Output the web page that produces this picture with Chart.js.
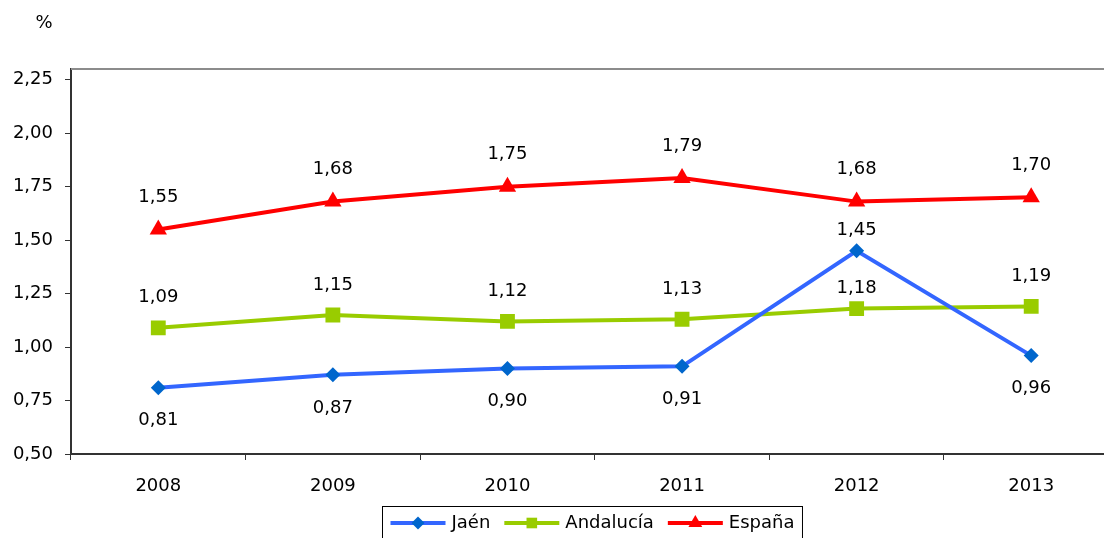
<!DOCTYPE html>
<html>
<head>
<meta charset="utf-8">
<script src="https://cdn.jsdelivr.net/npm/chart.js@4.4.1/dist/chart.umd.min.js"></script>
<style>
  html, body { margin: 0; padding: 0; background: #fff; overflow: hidden; }
  #wrap { width: 1129px; height: 538px; }
</style>
</head>
<body>
<div id="wrap"><canvas id="chart" width="1129" height="538"></canvas></div>
<script>
const years = ['2008', '2009', '2010', '2011', '2012', '2013'];
const jaen = [0.81, 0.87, 0.90, 0.91, 1.45, 0.96];
const andalucia = [1.09, 1.15, 1.12, 1.13, 1.18, 1.19];
const espana = [1.55, 1.68, 1.75, 1.79, 1.68, 1.70];
const yTicks = [0.50, 0.75, 1.00, 1.25, 1.50, 1.75, 2.00, 2.25];

const FONT = 'DejaVu Sans';
Chart.defaults.font.family = FONT;
Chart.defaults.font.size = 18;
Chart.defaults.color = '#000';

const fmt = v => v.toFixed(2).replace('.', ',');

// value labels next to each point
const valueLabels = {
  id: 'valueLabels',
  afterDatasetsDraw(chart) {
    const ctx = chart.ctx;
    ctx.save();
    ctx.font = '18px ' + FONT;
    ctx.fillStyle = '#000';
    ctx.textAlign = 'center';
    ctx.textBaseline = 'middle';
    chart.data.datasets.forEach((ds, di) => {
      const meta = chart.getDatasetMeta(di);
      meta.data.forEach((pt, i) => {
        ctx.fillText(fmt(ds.data[i]), pt.x, pt.y + ds.labelDy(i));
      });
    });
    ctx.restore();
  }
};

// grey top edge of the plot frame, the unit, and the boxed legend
const frame = {
  id: 'frame',
  afterDraw(chart) {
    const ctx = chart.ctx;
    const a = chart.chartArea;
    ctx.save();
    ctx.strokeStyle = '#8c8c8c';
    ctx.lineWidth = 2;
    ctx.beginPath();
    ctx.moveTo(a.left, a.top);
    ctx.lineTo(a.right, a.top);
    ctx.stroke();

    ctx.font = '18px ' + FONT;
    ctx.fillStyle = '#000';
    ctx.textAlign = 'center';
    ctx.textBaseline = 'middle';
    ctx.fillText('%', 44, 23);

    // legend
    const lineLen = 55, gap = 6, after = 14, pad = 8;
    const items = chart.data.datasets.map(ds => ({ds, w: ctx.measureText(ds.label).width}));
    let total = pad * 2 - after;
    items.forEach(it => { total += lineLen + gap + it.w + after; });
    const cx = 592;
    const left = Math.round(cx - total / 2) + 0.5;
    const top = 506.5;
    const midY = 523;
    ctx.strokeStyle = '#000';
    ctx.lineWidth = 1;
    ctx.strokeRect(left, top, total, 60);
    let x = left + pad;
    items.forEach(it => {
      const ds = it.ds;
      ctx.strokeStyle = ds.borderColor;
      ctx.lineWidth = 4;
      ctx.beginPath();
      ctx.moveTo(x, midY);
      ctx.lineTo(x + lineLen, midY);
      ctx.stroke();
      ctx.fillStyle = ds.pointBackgroundColor;
      Chart.helpers.drawPoint(ctx, {pointStyle: ds.pointStyle, radius: ds.legendRadius, rotation: 0, borderWidth: 0}, x + lineLen / 2, midY);
      ctx.fillStyle = '#000';
      ctx.textAlign = 'left';
      ctx.fillText(ds.label, x + lineLen + gap, midY);
      x += lineLen + gap + it.w + after;
    });
    ctx.restore();
  }
};

new Chart(document.getElementById('chart'), {
  type: 'line',
  data: {
    labels: years,
    datasets: [
      {
        label: 'Jaén',
        data: jaen,
        borderColor: '#3366ff',
        backgroundColor: '#0066cc',
        pointBackgroundColor: '#0066cc',
        pointBorderWidth: 0,
        pointStyle: 'rectRot',
        pointRadius: 7.5,
        legendRadius: 6.5,
        borderWidth: 4,
        labelDy: i => (i === 4 ? -20 : 33)
      },
      {
        label: 'Andalucía',
        data: andalucia,
        borderColor: '#99cc00',
        backgroundColor: '#99cc00',
        pointBackgroundColor: '#99cc00',
        pointBorderWidth: 0,
        pointStyle: 'rect',
        pointRadius: 10.5,
        legendRadius: 7.5,
        borderWidth: 4,
        labelDy: i => (i === 4 ? -20 : -30)
      },
      {
        label: 'España',
        data: espana,
        borderColor: '#ff0000',
        backgroundColor: '#ff0000',
        pointBackgroundColor: '#ff0000',
        pointBorderWidth: 0,
        pointStyle: 'triangle',
        pointRadius: 10,
        legendRadius: 8,
        borderWidth: 4,
        labelDy: () => -32
      }
    ]
  },
  options: {
    responsive: false,
    animation: false,
    devicePixelRatio: 1,
    layout: { padding: { top: 69, bottom: 24, left: 0, right: 2 } },
    elements: { line: { tension: 0 } },
    plugins: {
      legend: { display: false },
      tooltip: { enabled: false }
    },
    scales: {
      x: {
        offset: true,
        grid: {
          offset: true,
          drawOnChartArea: false,
          drawTicks: true,
          tickLength: 6,
          color: '#333'
        },
        border: { display: true, color: '#333', width: 2 },
        ticks: { padding: 16, maxRotation: 0 },
        afterFit(scale) { scale.height = 60; }
      },
      y: {
        min: 0.5,
        max: 2.3,
        grid: {
          drawOnChartArea: false,
          drawTicks: true,
          tickLength: 6,
          color: '#333'
        },
        border: { display: true, color: '#333', width: 2 },
        ticks: { padding: 12, callback: v => fmt(v) },
        afterBuildTicks(scale) { scale.ticks = yTicks.map(v => ({value: v})); },
        afterFit(scale) { scale.width = 71; }
      }
    }
  },
  plugins: [valueLabels, frame]
});
</script>
</body>
</html>
